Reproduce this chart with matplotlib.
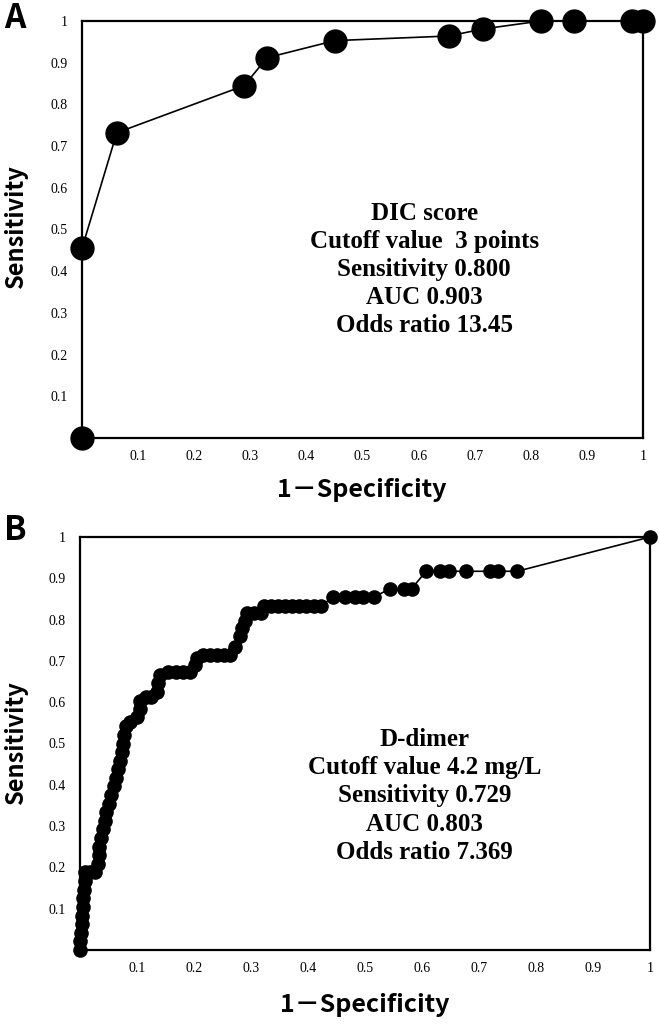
import matplotlib
matplotlib.use("Agg")
import matplotlib.pyplot as plt

# ---------------- data ----------------
# Panel A: DIC score ROC points (1-specificity, sensitivity)
dic_fpr = [0.0, 0.0, 0.062, 0.289, 0.330, 0.451, 0.654, 0.715, 0.818, 0.877, 0.980, 1.0]
dic_tpr = [0.0, 0.455, 0.732, 0.845, 0.912, 0.953, 0.964, 0.981, 1.0, 1.0, 1.0, 1.0]
dic_text = ["DIC score", "Cutoff value  3 points", "Sensitivity 0.800",
            "AUC 0.903", "Odds ratio 13.45"]

# Panel B: D-dimer ROC points
dd_fpr = [0.000, 0.000, 0.002, 0.003, 0.004, 0.005, 0.006, 0.007, 0.008, 0.009,
          0.018, 0.027, 0.032, 0.033, 0.034, 0.036, 0.040, 0.043, 0.046, 0.050,
          0.055, 0.060, 0.063, 0.066, 0.070, 0.073, 0.076, 0.078, 0.081, 0.088,
          0.100, 0.105, 0.105, 0.115, 0.125, 0.135, 0.137, 0.140, 0.155, 0.168,
          0.180, 0.193, 0.202, 0.205, 0.215, 0.228, 0.240, 0.252, 0.263, 0.272,
          0.280, 0.284, 0.289, 0.293, 0.305, 0.318, 0.322, 0.335, 0.347, 0.360,
          0.372, 0.385, 0.397, 0.410, 0.422, 0.444, 0.465, 0.482, 0.497, 0.515,
          0.544, 0.568, 0.582, 0.607, 0.632, 0.647, 0.677, 0.720, 0.733, 0.767,
          1.000]
dd_tpr = [0.000, 0.021, 0.042, 0.063, 0.083, 0.104, 0.125, 0.146, 0.167, 0.188,
          0.188, 0.188, 0.208, 0.229, 0.250, 0.271, 0.292, 0.313, 0.333, 0.354,
          0.375, 0.396, 0.417, 0.438, 0.458, 0.479, 0.500, 0.521, 0.542, 0.552,
          0.563, 0.583, 0.604, 0.613, 0.613, 0.625, 0.646, 0.667, 0.673, 0.673,
          0.673, 0.673, 0.690, 0.708, 0.714, 0.714, 0.714, 0.714, 0.714, 0.734,
          0.760, 0.780, 0.796, 0.816, 0.816, 0.816, 0.833, 0.833, 0.833, 0.833,
          0.833, 0.833, 0.833, 0.833, 0.833, 0.854, 0.854, 0.854, 0.854, 0.854,
          0.875, 0.875, 0.875, 0.917, 0.917, 0.917, 0.917, 0.917, 0.917, 0.917,
          1.000]
dd_text = ["D-dimer", "Cutoff value 4.2 mg/L", "Sensitivity 0.729",
           "AUC 0.803", "Odds ratio 7.369"]

ticks = [0.1, 0.2, 0.3, 0.4, 0.5, 0.6, 0.7, 0.8, 0.9, 1.0]
tick_labels = ["0.1", "0.2", "0.3", "0.4", "0.5", "0.6", "0.7", "0.8", "0.9", "1"]

# ---------------- figure ----------------
W, H = 660, 1031
fig = plt.figure(figsize=(W / 100, H / 100), dpi=100)
fig.patch.set_facecolor("white")

serif = "Liberation Serif"
sans = ["Noto Sans CJK JP", "DejaVu Sans"]


def px_axes(left, top, right, bottom):
    return fig.add_axes([left / W, 1 - bottom / H, (right - left) / W, (bottom - top) / H])


def style(ax):
    ax.set_xlim(0, 1)
    ax.set_ylim(0, 1)
    ax.set_xticks(ticks)
    ax.set_yticks(ticks)
    ax.set_xticklabels(tick_labels, fontfamily=serif, fontsize=10)
    ax.set_yticklabels(tick_labels, fontfamily=serif, fontsize=10)
    ax.tick_params(length=0, pad=10)
    ax.tick_params(axis="x", pad=9)
    for s in ax.spines.values():
        s.set_linewidth(1.6)
        s.set_color("black")


# Panel A
axA = px_axes(82, 21, 643, 438)
style(axA)
axA.plot(dic_fpr, dic_tpr, color="black", lw=1.2, marker="o", ms=16.5,
         mfc="black", mec="black", clip_on=False, zorder=5)
axA.text(0.61, 0.404, "\n".join(dic_text), transform=axA.transAxes,
         ha="center", va="center", fontfamily=serif, fontweight="bold",
         fontsize=18, linespacing=1.27)

# Panel B
axB = px_axes(80, 537, 650, 950)
style(axB)
axB.plot(dd_fpr, dd_tpr, color="black", lw=1.2, marker="o", ms=9.5,
         mfc="black", mec="black", clip_on=False, zorder=5)
axB.text(0.605, 0.373, "\n".join(dd_text), transform=axB.transAxes,
         ha="center", va="center", fontfamily=serif, fontweight="bold",
         fontsize=18, linespacing=1.29)

# labels
def ftxt(x, y, s, **kw):
    fig.text(x / W, 1 - y / H, s, **kw)

ftxt(15, 19, "A", ha="center", va="center", family=sans, fontweight="bold", fontsize=24)
ftxt(15, 531, "B", ha="center", va="center", family=sans, fontweight="bold", fontsize=24)
ftxt(16, 226, "Sensitivity", ha="center", va="center", rotation=90,
     family=sans, fontweight="bold", fontsize=17)
ftxt(16, 742, "Sensitivity", ha="center", va="center", rotation=90,
     family=sans, fontweight="bold", fontsize=17)
ftxt(362, 490, "1－Specificity", ha="center", va="center",
     family=sans, fontweight="bold", fontsize=18)
ftxt(365, 1005, "1－Specificity", ha="center", va="center",
     family=sans, fontweight="bold", fontsize=18)

fig.savefig("out.png", dpi=100, facecolor="white")
